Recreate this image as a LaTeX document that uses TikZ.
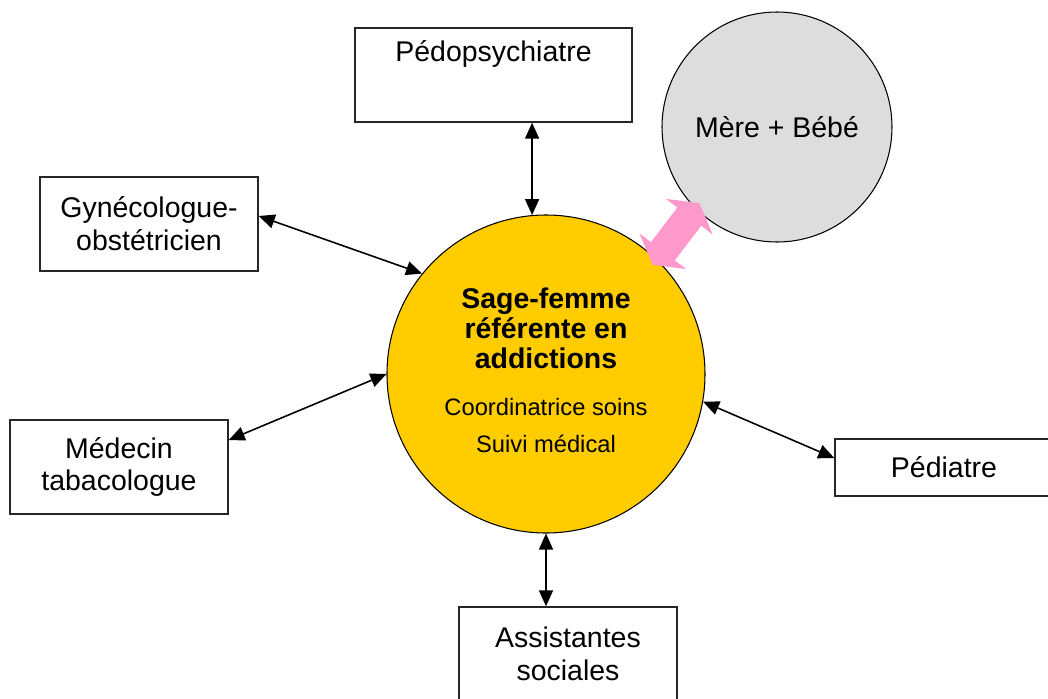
\documentclass[tikz,border=0pt]{standalone}
\usepackage{fontspec}
\setmainfont{Liberation Sans}
\usetikzlibrary{arrows.meta}
\definecolor{jaune}{RGB}{255,204,0}
\definecolor{gris}{RGB}{221,221,221}
\definecolor{rose}{RGB}{255,153,204}
\begin{document}
\begin{tikzpicture}[
                auto,
                block/.style={
                    rectangle,
                    draw=black!85,
                    line width=0.8pt,
                    align=center,
                    inner sep=0pt,
                    minimum width=4.36cm,
                    minimum height=1.88cm,
                    font=\fontsize{16.2}{18.7}\selectfont
                },
                rond/.style={
                    circle,
                    draw,
                    line width=0.6pt,
                    align=center,
                    inner sep=0pt
                },
                line/.style={
                    draw,
                    line width=0.9pt,
                    >={Triangle[length=0.32cm,width=0.28cm]},
                    <->
                },
                lien/.style={
                    draw=rose,
                    line width=0.6cm,
                    >={Triangle[length=0.34cm,width=1.16cm]},
                    <->,
                    shorten <=-0.14cm,
                    shorten >=-0.14cm
                }]

                \useasboundingbox (-10.92,-6.48) rectangle (10.04,7.48);
                \clip (-10.92,-6.48) rectangle (10.04,7.48);

                \node [rond, fill=jaune, minimum size=6.36cm, font=\fontsize{16.2}{17.3}\selectfont] (main) {\textbf{Sage-femme}\\\textbf{référente en}\\\textbf{addictions}\\[9pt]{\fontsize{13.5}{16}\selectfont Coordinatrice soins}\\[4pt]{\fontsize{13.5}{16}\selectfont Suivi médical\rule[-0.16cm]{0pt}{0pt}}};

                \node [rond, fill=gris, minimum size=4.6cm, node distance=4.62cm, right of=main, yshift=4.94cm, font=\fontsize{16.2}{18.7}\selectfont] (mere) {Mère + Bébé};

                \node [block, node distance=5.98cm, above of=main, xshift=-1.05cm, minimum width=5.54cm, text height=0.674cm, text depth=1.206cm] (pedo) {Pédopsychiatre};
                \node [block, node distance=7.94cm, left of=main, yshift=3cm] (gyn) {Gynécologue-\\obstétricien};
                \node [block, node distance=8.54cm, left of=main, yshift=-1.86cm] (med) {Médecin\\tabacologue};
                \node [block, node distance=7.96cm, right of=main, yshift=-1.87cm, minimum height=1.14cm] (ped) {Pédiatre};
                \node [block, node distance=5.6cm, below of=main, xshift=0.44cm] (assist) {Assistantes\\sociales};

                \draw [line] (pedo.south -| main.95) -- (main.95);
                \draw [line] ([yshift=0.16cm]gyn.east) -- (main.141);
                \draw [line] ([yshift=0.54cm]med.east) -- (main.180);
                \draw [line] ([yshift=0.19cm]ped.west) -- (main.-10);
                \draw [line] (main.south) -- (main.south |- assist.north);

                \draw [lien] (main.46) -- (mere.225);

            \end{tikzpicture}
\end{document}
